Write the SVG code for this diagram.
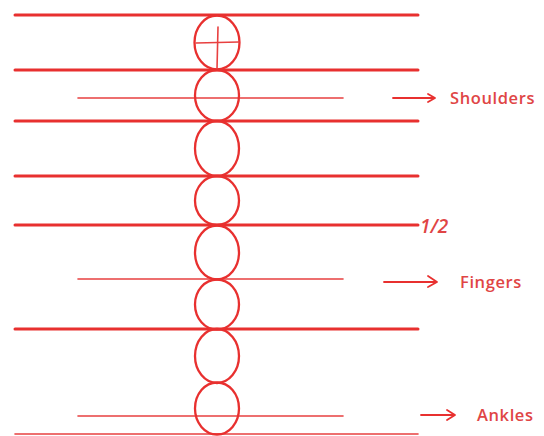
<svg xmlns="http://www.w3.org/2000/svg" width="544" height="436" viewBox="0 0 544 436">
<defs>
<style>
.thick{stroke:#e8302f;stroke-width:3;fill:none;stroke-linecap:round}
.thin{stroke:#e84040;stroke-width:1.6;fill:none;stroke-linecap:round}
.circ{stroke:#e8302f;stroke-width:2.3;fill:none}
.arr{stroke:#e8302f;stroke-width:1.8;fill:none;stroke-linecap:round;stroke-linejoin:round}
.lbl{font-family:"Open Sans","Liberation Sans",sans-serif;font-size:16.5px;font-weight:600;fill:#e04545;letter-spacing:0.6px}
</style>
</defs>
<rect width="544" height="436" fill="#ffffff"/>
<g id="guides">
<line class="thick" x1="15" y1="15" x2="418" y2="15"/>
<line class="thick" x1="15" y1="70" x2="418" y2="70"/>
<line class="thin" x1="78" y1="98" x2="343" y2="98"/>
<line class="thick" x1="15" y1="121" x2="418" y2="121"/>
<line class="thick" x1="15" y1="176" x2="418" y2="176"/>
<line class="thick" x1="15" y1="225" x2="418" y2="225"/>
<line class="thin" x1="78" y1="279" x2="343" y2="279"/>
<line class="thick" x1="15" y1="329" x2="418" y2="329"/>
<line class="thin" x1="78" y1="416" x2="343" y2="416"/>
<line class="thin" x1="15" y1="434" x2="418" y2="434"/>
</g>
<g id="head">
<ellipse class="circ" cx="217" cy="42.5" rx="22.5" ry="27"/>
<line class="thin" x1="196" y1="43" x2="239" y2="42"/>
<line class="thin" x1="218" y1="27" x2="217" y2="69"/>
</g>
<g id="body">
<ellipse class="circ" cx="217" cy="95.5" rx="22" ry="25.5"/>
<ellipse class="circ" cx="217" cy="148.5" rx="22" ry="27.5"/>
<ellipse class="circ" cx="217" cy="200.5" rx="22" ry="24.5"/>
<ellipse class="circ" cx="217" cy="252.5" rx="22" ry="27"/>
<ellipse class="circ" cx="217" cy="304.5" rx="22" ry="25"/>
<ellipse class="circ" cx="217" cy="356" rx="22" ry="27"/>
<ellipse class="circ" cx="217" cy="408.5" rx="22" ry="26"/>
</g>
<g id="connectors">
<path class="arr" d="M393 98 H433 M428 94 L435 98 L428 102"/>
<path class="arr" d="M384 282 H436 M428 276 L437 282 L428 287"/>
<path class="arr" d="M421 415 H454 M447 410 L455 415 L447 420"/>
</g>
<g id="label-shoulders"><text class="lbl" x="450" y="104">Shoulders</text></g>
<g id="label-half"><text class="lbl" x="420" y="233" style="font-size:19px;letter-spacing:0;font-style:italic">1/2</text></g>
<g id="label-fingers"><text class="lbl" x="460" y="288">Fingers</text></g>
<g id="label-ankles"><text class="lbl" x="477" y="421">Ankles</text></g>
</svg>
